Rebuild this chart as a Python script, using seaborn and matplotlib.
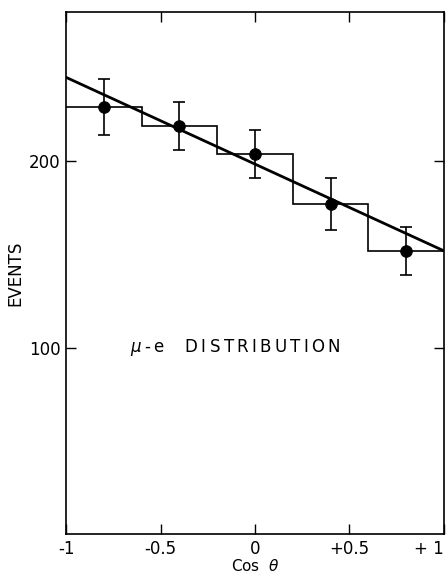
import numpy as np
import pandas as pd
import seaborn as sns
import matplotlib.pyplot as plt

# bins in cos(theta), five of width 0.4
bin_edges = [-1.0, -0.6, -0.2, 0.2, 0.6, 1.0]
bin_centers = [-0.8, -0.4, 0.0, 0.4, 0.8]
events = [229, 219, 204, 177, 152]
errors = [15, 13, 13, 14, 13]

# fitted straight line, end points
fit_x = [-1.0, 1.0]
fit_y = [245, 152]

xtick_vals = [-1, -0.5, 0, 0.5, 1]
xtick_labels = ["-1", "-0.5", "0", "+0.5", "+ 1"]
ytick_vals = [100, 200]

sns.set_style("ticks")
plt.rcParams["font.family"] = ["DejaVu Sans"]
plt.rcParams["text.color"] = "black"
plt.rcParams["axes.labelcolor"] = "black"
plt.rcParams["xtick.color"] = "black"
plt.rcParams["ytick.color"] = "black"

fig = plt.figure(figsize=(4.47, 5.77), dpi=100)
ax = fig.add_axes([0.148, 0.074, 0.845, 0.905])

df = pd.DataFrame({"cos": bin_centers, "events": events, "err": errors})

# histogram as steps
ax.stairs(events, bin_edges, color="black", linewidth=1.2, baseline=None)

# fit line
sns.lineplot(x=fit_x, y=fit_y, ax=ax, color="black", linewidth=2.0)

# points with error bars
ax.errorbar(df["cos"], df["events"], yerr=df["err"], fmt="none",
            ecolor="black", elinewidth=1.2, capsize=4, capthick=1.2)
sns.scatterplot(data=df, x="cos", y="events", ax=ax, color="black",
                s=70, edgecolor="black", zorder=5)

label = "D I S T R I B U T I O N".replace(" ", "\u2009")
ax.text(-0.66, 100, r"$\mu$" + "\u2009-\u2009e    " + label,
        fontsize=12, va="center", ha="left")

ax.set_xlim(-1.0, 1.0)
ax.set_ylim(0, 280)
ax.set_xticks(xtick_vals)
ax.set_xticklabels(xtick_labels)
ax.set_yticks(ytick_vals)
ax.tick_params(direction="in", length=7, width=1, top=True, right=True,
               labelsize=12, pad=4)
ax.tick_params(axis="x", which="both", labeltop=False)
ax.get_xticklabels()[-1].set_horizontalalignment("right")
for s in ax.spines.values():
    s.set_linewidth(1.2)
    s.set_color("black")

ax.set_xlabel(r"Cos  $\theta$", fontsize=11, labelpad=0)
ax.set_ylabel("EVENTS", fontsize=12, labelpad=3)

fig.savefig("out.png", dpi=100)
